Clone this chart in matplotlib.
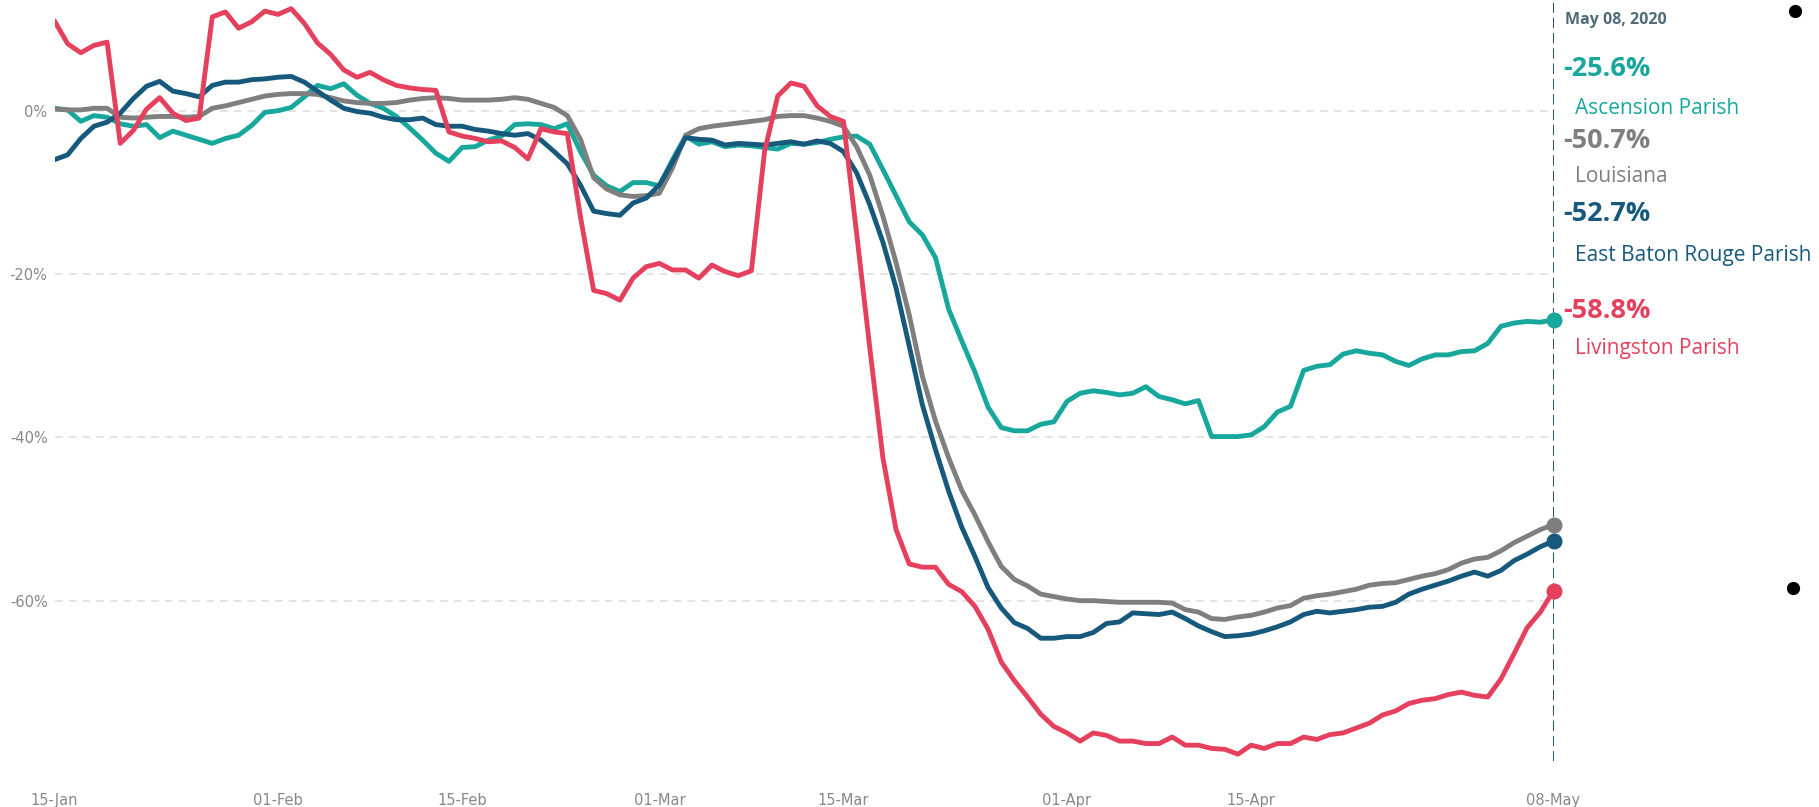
import matplotlib
matplotlib.use("Agg")
import matplotlib.pyplot as plt
import matplotlib.dates as mdates
import pandas as pd

# daily mobility change vs baseline (%), 15 Jan - 08 May 2020
dates = pd.date_range("2020-01-15", "2020-05-08", freq="D")

ascension = [
    0.3, 0.1, -1.3, -0.6, -0.8, -1.6, -1.9, -1.7, -3.3, -2.5,
    -3.0, -3.5, -4.0, -3.4, -3.0, -1.8, -0.2, 0.0, 0.4, 1.7,
    3.1, 2.7, 3.3, 1.9, 0.9, 0.3, -0.7, -2.1, -3.6, -5.2,
    -6.2, -4.5, -4.4, -3.6, -3.1, -1.7, -1.6, -1.7, -2.2, -1.6,
    -5.0, -7.9, -9.2, -9.9, -8.8, -8.8, -9.2, -6.0, -3.1, -4.1,
    -3.8, -4.4, -4.2, -4.3, -4.5, -4.7, -4.0, -4.1, -3.9, -3.5,
    -3.2, -3.1, -4.1, -7.2, -10.4, -13.6, -15.2, -18.0, -24.3, -28.2,
    -32.0, -36.3, -38.8, -39.2, -39.2, -38.4, -38.1, -35.6, -34.6, -34.3,
    -34.5, -34.8, -34.6, -33.8, -35.0, -35.4, -35.9, -35.5, -39.9, -39.9,
    -39.9, -39.7, -38.7, -36.9, -36.2, -31.8, -31.3, -31.1, -29.8, -29.4,
    -29.7, -29.9, -30.7, -31.2, -30.4, -29.9, -29.9, -29.5, -29.4, -28.5,
    -26.4, -26.0, -25.8, -25.9, -25.6,
]

louisiana = [
    0.2, 0.1, 0.1, 0.3, 0.3, -0.8, -0.9, -0.8, -0.7, -0.7,
    -0.8, -0.7, 0.3, 0.6, 1.0, 1.4, 1.8, 2.0, 2.1, 2.1,
    2.0, 1.6, 1.2, 1.0, 0.9, 0.9, 1.0, 1.3, 1.5, 1.6,
    1.5, 1.3, 1.3, 1.3, 1.4, 1.6, 1.4, 0.9, 0.4, -0.6,
    -3.5, -8.2, -9.6, -10.3, -10.5, -10.4, -10.1, -7.0, -3.0, -2.2,
    -1.9, -1.7, -1.5, -1.3, -1.1, -0.7, -0.6, -0.6, -0.9, -1.3,
    -1.9, -4.4, -7.9, -12.9, -18.6, -25.0, -32.5, -38.0, -42.5, -46.5,
    -49.5, -52.8, -55.8, -57.4, -58.2, -59.2, -59.5, -59.8, -60.0, -60.0,
    -60.1, -60.2, -60.2, -60.2, -60.2, -60.3, -61.1, -61.4, -62.2, -62.3,
    -62.0, -61.8, -61.4, -60.9, -60.6, -59.7, -59.4, -59.2, -58.9, -58.6,
    -58.1, -57.9, -57.8, -57.4, -57.0, -56.7, -56.2, -55.4, -54.9, -54.7,
    -53.9, -52.9, -52.1, -51.3, -50.7,
]

east_baton_rouge = [
    -6.0, -5.4, -3.4, -1.9, -1.4, -0.3, 1.5, 3.0, 3.6, 2.4,
    2.1, 1.7, 3.1, 3.5, 3.5, 3.8, 3.9, 4.1, 4.2, 3.5,
    2.4, 1.3, 0.3, -0.1, -0.3, -0.8, -1.1, -1.1, -0.9, -1.7,
    -1.9, -1.9, -2.3, -2.5, -2.8, -3.0, -2.8, -3.6, -5.0, -6.5,
    -9.1, -12.3, -12.6, -12.8, -11.3, -10.7, -9.1, -6.3, -3.3, -3.5,
    -3.6, -4.2, -4.0, -4.1, -4.2, -4.0, -3.8, -4.1, -3.7, -4.0,
    -5.0, -7.6, -11.5, -16.1, -21.7, -28.8, -36.0, -41.5, -46.6, -51.0,
    -54.6, -58.4, -60.9, -62.7, -63.4, -64.6, -64.6, -64.4, -64.4, -63.9,
    -62.8, -62.6, -61.5, -61.6, -61.7, -61.4, -62.2, -63.1, -63.8, -64.4,
    -64.3, -64.1, -63.7, -63.2, -62.6, -61.7, -61.3, -61.5, -61.3, -61.1,
    -60.8, -60.7, -60.2, -59.2, -58.6, -58.1, -57.6, -57.0, -56.5, -57.0,
    -56.3, -55.1, -54.3, -53.4, -52.7,
]

livingston = [
    11.0, 8.2, 7.1, 8.0, 8.4, -4.0, -2.4, 0.2, 1.6, -0.3,
    -1.2, -0.9, 11.5, 12.1, 10.1, 10.9, 12.2, 11.8, 12.5, 10.7,
    8.3, 6.9, 5.0, 4.1, 4.7, 3.8, 3.1, 2.8, 2.6, 2.5,
    -2.6, -3.1, -3.4, -3.8, -3.7, -4.5, -5.9, -2.2, -2.6, -2.8,
    -13.0, -22.0, -22.4, -23.2, -20.5, -19.1, -18.7, -19.5, -19.5, -20.5,
    -18.9, -19.7, -20.2, -19.6, -5.0, 1.8, 3.4, 3.0, 0.6, -0.7,
    -1.3, -15.0, -29.0, -42.5, -51.3, -55.5, -55.9, -55.9, -58.0, -58.9,
    -60.7, -63.5, -67.5, -69.8, -71.8, -73.9, -75.4, -76.2, -77.2, -76.2,
    -76.5, -77.2, -77.2, -77.5, -77.5, -76.7, -77.7, -77.7, -78.1, -78.2,
    -78.8, -77.7, -78.1, -77.5, -77.5, -76.7, -77.0, -76.4, -76.2, -75.6,
    -75.0, -74.0, -73.5, -72.6, -72.2, -72.0, -71.5, -71.2, -71.6, -71.8,
    -69.6, -66.5, -63.3, -61.4, -58.8,
]

names = ["Ascension Parish", "Louisiana", "East Baton Rouge Parish", "Livingston Parish"]
colors = ["#17a79c", "#7f7f7f", "#17597c", "#e5415e"]
end_labels = ["-25.6%", "-50.7%", "-52.7%", "-58.8%"]
series = [ascension, louisiana, east_baton_rouge, livingston]

tick_dates = pd.to_datetime(["2020-01-15", "2020-02-01", "2020-02-15", "2020-03-01",
                             "2020-03-15", "2020-04-01", "2020-04-15", "2020-05-08"])
y_ticks = [0, -20, -40, -60]

W, H = 1819, 807
fig = plt.figure(figsize=(W / 100, H / 100), dpi=100)
ax = fig.add_axes([54.5 / W, 1 - 760.7 / H, (1553.5 - 54.5) / W, 760.7 / H])

for vals, col in zip(series, colors):
    ax.plot(dates, vals, color=col, lw=3.5, solid_capstyle="round",
            solid_joinstyle="round", zorder=3)
    ax.plot(dates[-1], vals[-1], "o", color=col, ms=10.5, clip_on=False, zorder=5)

ax.axvline(dates[-1], color="#2f5566", lw=2.2, ls=(0, (3.4, 1.6)), zorder=4)

ax.set_xlim(dates[0], dates[-1])
ax.set_ylim(-79.6, 13.56)
ax.set_xticks(tick_dates)
ax.xaxis.set_major_formatter(mdates.DateFormatter("%d-%b"))
ax.set_yticks(y_ticks)
ax.set_yticklabels([f"{t}%" for t in y_ticks])
ax.grid(axis="y", color="#dddddd", lw=1.1, ls=(0, (5, 4)))
ax.grid(axis="x", visible=False)
ax.set_axisbelow(True)
for s in ax.spines.values():
    s.set_visible(False)
ax.tick_params(axis="x", length=0, pad=23, labelsize=10.5, labelcolor="#888888")
ax.tick_params(axis="y", length=0, pad=5, labelsize=10.5, labelcolor="#888888")

# right-hand annotation block
fig.text(1565 / W, 1 - 19.5 / H, "May 08, 2020", fontsize=11.5, fontweight="bold",
         color="#4f6a79", family="Open Sans", va="center")
value_y = [69, 141, 214, 311]
name_y = [108, 177, 256, 348]
for name, col, lab, vy, ny in zip(names, colors, end_labels, value_y, name_y):
    fig.text(1563 / W, 1 - vy / H, lab, fontsize=19.5, fontweight="bold", color=col,
             family="Open Sans", va="center")
    fig.text(1575 / W, 1 - ny / H, name, fontsize=15, color=col,
             family="Open Sans", va="center")

# stray black dots at the right edge
fig.add_artist(plt.Line2D([1795 / W], [1 - 11 / H], marker="o", ms=8.5, color="black", lw=0))
fig.add_artist(plt.Line2D([1793 / W], [1 - 588 / H], marker="o", ms=8.5, color="black", lw=0))

fig.savefig("out.png", dpi=100)
